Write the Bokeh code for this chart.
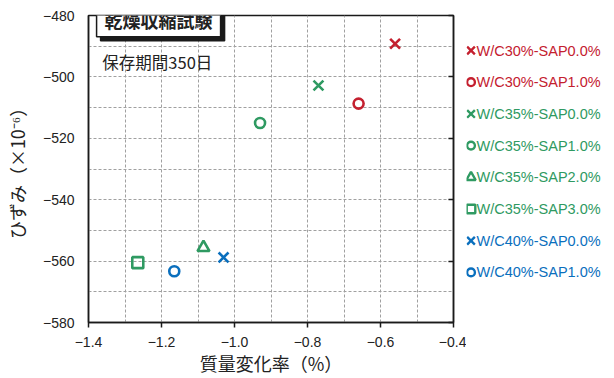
from bokeh.plotting import figure
from bokeh.layouts import row
from bokeh.models import Range1d, FixedTicker, LinearAxis, Label, ColumnDataSource
from bokeh.core.properties import value
from bokeh.embed import file_html
from bokeh.resources import INLINE

# Drying shrinkage test, storage period 350 days
series_names = ["W/C30%-SAP0.0%", "W/C30%-SAP1.0%", "W/C35%-SAP0.0%", "W/C35%-SAP1.0%",
                "W/C35%-SAP2.0%", "W/C35%-SAP3.0%", "W/C40%-SAP0.0%", "W/C40%-SAP1.0%"]
mass_change = [-0.56, -0.66, -0.77, -0.93, -1.085, -1.265, -1.03, -1.165]   # %
strain = [-489.2, -508.7, -502.8, -515.0, -555.6, -560.5, -558.8, -563.3]   # x10^-6
markers = ["x", "circle", "x", "circle", "triangle", "square", "x", "circle"]

RED, GREEN, BLUE = "#c4202f", "#2f9a62", "#0a6fbd"
colors = [RED, RED, GREEN, GREEN, GREEN, GREEN, BLUE, BLUE]

x_ticks = [-1.4, -1.2, -1.0, -0.8, -0.6, -0.4]
y_ticks = [-580, -560, -540, -520, -500, -480]
x_grid = [-1.3, -1.2, -1.1, -1.0, -0.9, -0.8, -0.7, -0.6, -0.5]
y_grid = [-570, -560, -550, -540, -530, -520, -510, -500, -490]

FONT = "Noto Sans CJK JP"
TEXT = "#222222"
DARK = "#1a1a1a"
marker_size = {"x": 14, "circle": 10, "triangle": 12, "square": 11}
BORDER_TOP, BORDER_BOTTOM = 15, 56
MAIN_W = 466

p = figure(width=MAIN_W, height=378, output_backend="svg", toolbar_location=None,
           x_range=Range1d(-1.4, -0.4), y_range=Range1d(-580, -480),
           min_border_left=88, min_border_right=13,
           min_border_top=BORDER_TOP, min_border_bottom=BORDER_BOTTOM,
           x_axis_label="質量変化率（%）", y_axis_label="ひずみ（×10⁻⁶）")
p.background_fill_color = "white"
p.border_fill_color = "white"
p.outline_line_color = DARK
p.outline_line_width = 1.5

for ax in (p.xaxis[0], p.yaxis[0]):
    ax.axis_line_color = DARK
    ax.axis_line_width = 1.5
    ax.major_tick_line_color = DARK
    ax.major_tick_line_width = 1.5
    ax.minor_tick_line_color = None
    ax.major_label_text_font = "Liberation Sans"
    ax.major_label_text_font_size = "14px"
    ax.major_label_text_color = TEXT
    ax.axis_label_text_font = FONT
    ax.axis_label_text_font_size = "18px"
    ax.axis_label_text_font_style = "normal"
    ax.axis_label_text_color = TEXT

p.xaxis[0].ticker = FixedTicker(ticks=x_ticks)
p.xaxis[0].major_tick_in = 0
p.xaxis[0].major_tick_out = 5
p.xaxis[0].major_label_standoff = 9
p.xaxis[0].axis_label_standoff = 0
p.xaxis[0].major_label_overrides = {t: f"−{abs(t):.1f}" for t in x_ticks}

p.yaxis[0].ticker = FixedTicker(ticks=y_ticks)
p.yaxis[0].major_tick_in = 0
p.yaxis[0].major_tick_out = 0
p.yaxis[0].major_label_standoff = 14
p.yaxis[0].axis_label_standoff = 10
p.yaxis[0].major_label_overrides = {t: f"−{abs(t)}" for t in y_ticks}

# right-hand frame edge with inward ticks, no labels
right_ax = LinearAxis(ticker=FixedTicker(ticks=y_ticks),
                      major_label_overrides={t: "" for t in y_ticks},
                      major_tick_in=5, major_tick_out=0, major_tick_line_width=1.5,
                      major_tick_line_color=DARK, minor_tick_line_color=None,
                      axis_line_color=DARK, axis_line_width=1.5, major_label_standoff=0)
p.add_layout(right_ax, "right")

p.xgrid[0].ticker = FixedTicker(ticks=x_grid)
p.ygrid[0].ticker = FixedTicker(ticks=y_grid)
for g in (p.xgrid[0], p.ygrid[0]):
    g.grid_line_color = "#a0a0a0"
    g.grid_line_dash = "3 2"
    g.grid_line_width = 1

src = ColumnDataSource(dict(x=mass_change, y=strain, m=markers, c=colors,
                            s=[marker_size[m] for m in markers]))
p.scatter("x", "y", source=src, marker="m", size="s", line_color="c", line_width=2.6,
          fill_color=None)

# title box with drop shadow
title_x, title_y = -1.208, -481.4
for dx, dy, bg, tc in [(4, -4, DARK, DARK), (0, 0, "white", TEXT)]:
    p.add_layout(Label(x=title_x, y=title_y, x_offset=dx, y_offset=dy, text="乾燥収縮試験",
                       text_font=FONT, text_font_style="bold", text_font_size="18px",
                       text_color=tc, text_align="center", text_baseline="middle",
                       background_fill_color=bg, border_line_color=DARK,
                       border_line_width=1.5, padding=(8, 4)))

p.add_layout(Label(x=-1.362, y=-495.2, text="保存期間350日", text_font=FONT,
                   text_font_size="16.5px", text_color=TEXT, text_baseline="middle"))

# legend panel: one row per series, text in the series colour.
# Its frame lines up with the main frame; y runs in pixels from the page top.
frame_top = BORDER_TOP
frame_bottom = 378 - BORDER_BOTTOM
LEG_W = 614 - MAIN_W
leg = figure(width=LEG_W, height=378, output_backend="svg", toolbar_location=None,
             x_range=Range1d(0, LEG_W), y_range=Range1d(frame_bottom, frame_top),
             min_border_left=0, min_border_right=0,
             min_border_top=BORDER_TOP, min_border_bottom=BORDER_BOTTOM,
             outline_line_color=None)
leg.axis.visible = False
leg.grid.visible = False
leg.background_fill_color = "white"
leg.border_fill_color = "white"

row_y = [50 + i * 31.7 for i in range(len(series_names))]
n = len(series_names)
leg_src = ColumnDataSource(dict(x=[4.5] * n, tx=[10] * n,
                                y=row_y, m=markers, c=colors, name=series_names,
                                s=[marker_size[m] * 0.78 for m in markers]))
leg.scatter("x", "y", source=leg_src, marker="m", size="s", line_color="c",
            line_width=2.4, fill_color=None)
leg.text("tx", "y", text="name", source=leg_src, text_color="c",
         text_font=value("Liberation Sans"), text_font_size="14.5px",
         text_baseline="middle", text_align="left")

layout = row(p, leg, spacing=0)
open("out.html", "w").write(file_html(layout, INLINE))
